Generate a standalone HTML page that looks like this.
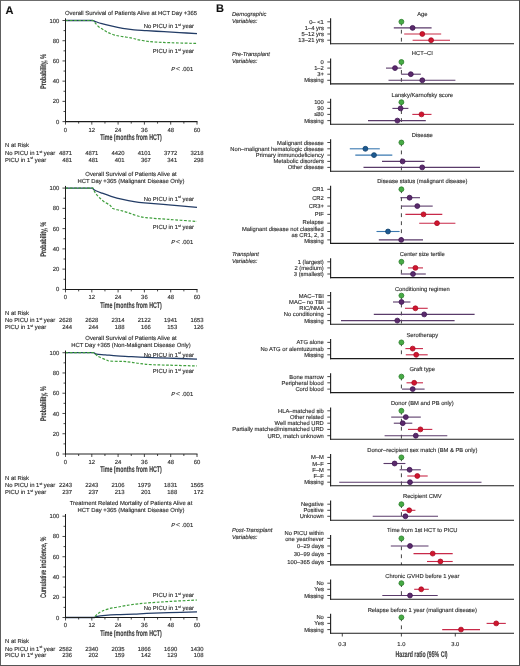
<!DOCTYPE html>
<html><head><meta charset="utf-8"><style>
html,body{margin:0;padding:0;background:#fff;}
body{width:520px;height:666px;overflow:hidden;}
svg{display:block;font-family:"Liberation Sans", sans-serif;text-rendering:geometricPrecision;}
text{stroke:#333;stroke-width:0.14px;}
</style></head><body>
<svg width="520" height="666" viewBox="0 0 520 666">
<defs><filter id="soft" x="-2%" y="-2%" width="104%" height="104%"><feGaussianBlur stdDeviation="0.32"/></filter></defs>
<rect x="0" y="0" width="520" height="666" fill="#fff"/>
<g filter="url(#soft)">
<text x="131.00" y="14.83" font-size="5.9" text-anchor="middle" fill="#2b2b2b" >Overall Survival of Patients Alive at HCT Day +365</text>
<path d="M65.50,20.50 L92.90,20.50 C93.22,20.63 93.37,20.77 94.87,21.31 C96.37,21.85 99.18,22.96 101.88,23.74 C104.58,24.51 107.62,25.20 111.09,25.96 C114.56,26.72 118.87,27.64 122.70,28.28 C126.54,28.93 130.12,29.41 134.10,29.80 C138.08,30.19 141.59,30.29 146.59,30.61 C151.60,30.93 158.65,31.39 164.12,31.72 C169.60,32.06 173.99,32.33 179.47,32.63 C184.95,32.94 194.08,33.39 197.00,33.54" fill="none" stroke="#243c66" stroke-width="1.3" stroke-linejoin="round"/>
<path d="M65.50,20.50 L92.90,20.50 C93.22,20.84 93.96,21.53 94.87,22.52 C95.78,23.52 97.02,25.32 98.38,26.46 C99.73,27.61 101.44,28.42 102.98,29.40 C104.51,30.37 105.64,31.39 107.58,32.33 C109.52,33.27 112.07,34.35 114.59,35.06 C117.11,35.77 119.82,36.07 122.70,36.57 C125.59,37.08 129.24,37.55 131.91,38.09 C134.57,38.63 136.22,39.29 138.70,39.81 C141.19,40.33 144.40,40.87 146.81,41.23 C149.22,41.58 149.19,41.68 153.17,41.93 C157.15,42.19 163.39,42.49 170.70,42.74 C178.01,42.99 192.62,43.33 197.00,43.45" fill="none" stroke="#3f9f3c" stroke-width="1.2" stroke-dasharray="2.7 1.6"/>
<line x1="65.50" y1="18.30" x2="65.50" y2="122.15" stroke="#1e1e1e" stroke-width="1.05" />
<line x1="64.95" y1="121.60" x2="197.50" y2="121.60" stroke="#1e1e1e" stroke-width="1.05" />
<line x1="62.50" y1="121.60" x2="65.50" y2="121.60" stroke="#1e1e1e" stroke-width="0.8" />
<text x="59.40" y="123.63" font-size="5.9" text-anchor="end" fill="#2b2b2b" >0</text>
<line x1="63.50" y1="111.49" x2="65.50" y2="111.49" stroke="#1e1e1e" stroke-width="0.8" />
<line x1="62.50" y1="101.38" x2="65.50" y2="101.38" stroke="#1e1e1e" stroke-width="0.8" />
<text x="59.40" y="103.41" font-size="5.9" text-anchor="end" fill="#2b2b2b" >20</text>
<line x1="63.50" y1="91.27" x2="65.50" y2="91.27" stroke="#1e1e1e" stroke-width="0.8" />
<line x1="62.50" y1="81.16" x2="65.50" y2="81.16" stroke="#1e1e1e" stroke-width="0.8" />
<text x="59.40" y="83.19" font-size="5.9" text-anchor="end" fill="#2b2b2b" >40</text>
<line x1="63.50" y1="71.05" x2="65.50" y2="71.05" stroke="#1e1e1e" stroke-width="0.8" />
<line x1="62.50" y1="60.94" x2="65.50" y2="60.94" stroke="#1e1e1e" stroke-width="0.8" />
<text x="59.40" y="62.97" font-size="5.9" text-anchor="end" fill="#2b2b2b" >60</text>
<line x1="63.50" y1="50.83" x2="65.50" y2="50.83" stroke="#1e1e1e" stroke-width="0.8" />
<line x1="62.50" y1="40.72" x2="65.50" y2="40.72" stroke="#1e1e1e" stroke-width="0.8" />
<text x="59.40" y="42.75" font-size="5.9" text-anchor="end" fill="#2b2b2b" >80</text>
<line x1="63.50" y1="30.61" x2="65.50" y2="30.61" stroke="#1e1e1e" stroke-width="0.8" />
<line x1="62.50" y1="20.50" x2="65.50" y2="20.50" stroke="#1e1e1e" stroke-width="0.8" />
<text x="59.40" y="22.53" font-size="5.9" text-anchor="end" fill="#2b2b2b" >100</text>
<line x1="65.50" y1="121.60" x2="65.50" y2="124.60" stroke="#1e1e1e" stroke-width="0.8" />
<text x="65.50" y="131.53" font-size="5.9" text-anchor="middle" fill="#2b2b2b" >0</text>
<line x1="78.65" y1="121.60" x2="78.65" y2="123.60" stroke="#1e1e1e" stroke-width="0.8" />
<line x1="91.80" y1="121.60" x2="91.80" y2="124.60" stroke="#1e1e1e" stroke-width="0.8" />
<text x="91.80" y="131.53" font-size="5.9" text-anchor="middle" fill="#2b2b2b" >12</text>
<line x1="104.95" y1="121.60" x2="104.95" y2="123.60" stroke="#1e1e1e" stroke-width="0.8" />
<line x1="118.10" y1="121.60" x2="118.10" y2="124.60" stroke="#1e1e1e" stroke-width="0.8" />
<text x="118.10" y="131.53" font-size="5.9" text-anchor="middle" fill="#2b2b2b" >24</text>
<line x1="131.25" y1="121.60" x2="131.25" y2="123.60" stroke="#1e1e1e" stroke-width="0.8" />
<line x1="144.40" y1="121.60" x2="144.40" y2="124.60" stroke="#1e1e1e" stroke-width="0.8" />
<text x="144.40" y="131.53" font-size="5.9" text-anchor="middle" fill="#2b2b2b" >36</text>
<line x1="157.55" y1="121.60" x2="157.55" y2="123.60" stroke="#1e1e1e" stroke-width="0.8" />
<line x1="170.70" y1="121.60" x2="170.70" y2="124.60" stroke="#1e1e1e" stroke-width="0.8" />
<text x="170.70" y="131.53" font-size="5.9" text-anchor="middle" fill="#2b2b2b" >48</text>
<line x1="183.85" y1="121.60" x2="183.85" y2="123.60" stroke="#1e1e1e" stroke-width="0.8" />
<line x1="197.00" y1="121.60" x2="197.00" y2="124.60" stroke="#1e1e1e" stroke-width="0.8" />
<text x="197.00" y="131.53" font-size="5.9" text-anchor="middle" fill="#2b2b2b" >60</text>
<text x="131" y="140.02" font-size="8.2" font-weight="bold" stroke="none" text-anchor="middle" fill="#3c3c3c" textLength="61.6" lengthAdjust="spacingAndGlyphs">Time (months from HCT)</text>
<text transform="translate(45.92,71.45) rotate(-90)" x="0" y="0" font-size="8.2" font-weight="bold" stroke="none" text-anchor="middle" fill="#3c3c3c" textLength="34.7" lengthAdjust="spacingAndGlyphs">Probability, %</text>
<text x="194.00" y="28.43" font-size="5.9" text-anchor="end" fill="#2b2b2b">No PICU in 1<tspan font-size="3.66" dy="-2.1">st</tspan><tspan dy="2.1"> year</tspan></text>
<text x="194.00" y="52.83" font-size="5.9" text-anchor="end" fill="#2b2b2b">PICU in 1<tspan font-size="3.66" dy="-2.1">st</tspan><tspan dy="2.1"> year</tspan></text>
<text x="171.3" y="70.53" font-size="5.9" fill="#2b2b2b" font-style="italic">P</text>
<text x="175.9" y="70.53" font-size="6.9" fill="#2b2b2b">&lt;</text>
<text x="181.7" y="70.53" font-size="5.9" fill="#2b2b2b">.001</text>
<text x="5.00" y="147.33" font-size="5.9" text-anchor="start" fill="#2b2b2b" >N at Risk</text>
<text x="5.00" y="154.63" font-size="5.9" text-anchor="start" fill="#2b2b2b">No PICU in 1<tspan font-size="3.66" dy="-2.1">st</tspan><tspan dy="2.1"> year</tspan></text>
<text x="5.00" y="161.53" font-size="5.9" text-anchor="start" fill="#2b2b2b">PICU in 1<tspan font-size="3.66" dy="-2.1">st</tspan><tspan dy="2.1"> year</tspan></text>
<text x="72.00" y="154.63" font-size="5.9" text-anchor="end" fill="#2b2b2b" >4871</text>
<text x="98.30" y="154.63" font-size="5.9" text-anchor="end" fill="#2b2b2b" >4871</text>
<text x="124.60" y="154.63" font-size="5.9" text-anchor="end" fill="#2b2b2b" >4420</text>
<text x="150.90" y="154.63" font-size="5.9" text-anchor="end" fill="#2b2b2b" >4101</text>
<text x="177.20" y="154.63" font-size="5.9" text-anchor="end" fill="#2b2b2b" >3772</text>
<text x="203.50" y="154.63" font-size="5.9" text-anchor="end" fill="#2b2b2b" >3218</text>
<text x="72.00" y="161.53" font-size="5.9" text-anchor="end" fill="#2b2b2b" >481</text>
<text x="98.30" y="161.53" font-size="5.9" text-anchor="end" fill="#2b2b2b" >481</text>
<text x="124.60" y="161.53" font-size="5.9" text-anchor="end" fill="#2b2b2b" >401</text>
<text x="150.90" y="161.53" font-size="5.9" text-anchor="end" fill="#2b2b2b" >367</text>
<text x="177.20" y="161.53" font-size="5.9" text-anchor="end" fill="#2b2b2b" >341</text>
<text x="203.50" y="161.53" font-size="5.9" text-anchor="end" fill="#2b2b2b" >298</text>
<text x="131.00" y="175.73" font-size="5.9" text-anchor="middle" fill="#2b2b2b" >Overall Survival of Patients Alive at</text>
<text x="131.00" y="182.93" font-size="5.9" text-anchor="middle" fill="#2b2b2b" >HCT Day +365 (Malignant Disease Only)</text>
<path d="M65.50,188.10 L92.46,188.10 C92.86,188.45 93.30,189.40 94.87,190.23 C96.44,191.05 99.18,192.05 101.88,193.06 C104.58,194.08 107.62,195.24 111.09,196.31 C114.56,197.37 118.87,198.55 122.70,199.45 C126.54,200.34 130.48,201.10 134.10,201.67 C137.72,202.25 138.63,202.37 144.40,202.89 C150.17,203.41 159.96,204.07 168.73,204.81 C177.49,205.56 192.29,206.92 197.00,207.35" fill="none" stroke="#243c66" stroke-width="1.3" stroke-linejoin="round"/>
<path d="M65.50,188.10 L92.90,188.10 C93.04,188.45 93.22,189.21 93.77,190.23 C94.32,191.24 95.23,192.93 96.18,194.18 C97.13,195.43 98.16,196.47 99.47,197.72 C100.79,198.97 102.32,200.42 104.07,201.67 C105.83,202.92 108.53,204.07 109.99,205.22 C111.45,206.37 111.12,207.70 112.84,208.56 C114.56,209.42 117.70,209.69 120.29,210.39 C122.89,211.08 125.73,211.85 128.40,212.72 C131.07,213.58 133.41,214.74 136.29,215.55 C139.18,216.36 140.31,216.94 145.72,217.58 C151.12,218.22 160.18,218.76 168.73,219.40 C177.28,220.04 192.29,221.09 197.00,221.43" fill="none" stroke="#3f9f3c" stroke-width="1.2" stroke-dasharray="2.7 1.6"/>
<line x1="65.50" y1="185.90" x2="65.50" y2="289.95" stroke="#1e1e1e" stroke-width="1.05" />
<line x1="64.95" y1="289.40" x2="197.50" y2="289.40" stroke="#1e1e1e" stroke-width="1.05" />
<line x1="62.50" y1="289.40" x2="65.50" y2="289.40" stroke="#1e1e1e" stroke-width="0.8" />
<text x="59.40" y="291.43" font-size="5.9" text-anchor="end" fill="#2b2b2b" >0</text>
<line x1="63.50" y1="279.27" x2="65.50" y2="279.27" stroke="#1e1e1e" stroke-width="0.8" />
<line x1="62.50" y1="269.14" x2="65.50" y2="269.14" stroke="#1e1e1e" stroke-width="0.8" />
<text x="59.40" y="271.17" font-size="5.9" text-anchor="end" fill="#2b2b2b" >20</text>
<line x1="63.50" y1="259.01" x2="65.50" y2="259.01" stroke="#1e1e1e" stroke-width="0.8" />
<line x1="62.50" y1="248.88" x2="65.50" y2="248.88" stroke="#1e1e1e" stroke-width="0.8" />
<text x="59.40" y="250.91" font-size="5.9" text-anchor="end" fill="#2b2b2b" >40</text>
<line x1="63.50" y1="238.75" x2="65.50" y2="238.75" stroke="#1e1e1e" stroke-width="0.8" />
<line x1="62.50" y1="228.62" x2="65.50" y2="228.62" stroke="#1e1e1e" stroke-width="0.8" />
<text x="59.40" y="230.65" font-size="5.9" text-anchor="end" fill="#2b2b2b" >60</text>
<line x1="63.50" y1="218.49" x2="65.50" y2="218.49" stroke="#1e1e1e" stroke-width="0.8" />
<line x1="62.50" y1="208.36" x2="65.50" y2="208.36" stroke="#1e1e1e" stroke-width="0.8" />
<text x="59.40" y="210.39" font-size="5.9" text-anchor="end" fill="#2b2b2b" >80</text>
<line x1="63.50" y1="198.23" x2="65.50" y2="198.23" stroke="#1e1e1e" stroke-width="0.8" />
<line x1="62.50" y1="188.10" x2="65.50" y2="188.10" stroke="#1e1e1e" stroke-width="0.8" />
<text x="59.40" y="190.13" font-size="5.9" text-anchor="end" fill="#2b2b2b" >100</text>
<line x1="65.50" y1="289.40" x2="65.50" y2="292.40" stroke="#1e1e1e" stroke-width="0.8" />
<text x="65.50" y="299.33" font-size="5.9" text-anchor="middle" fill="#2b2b2b" >0</text>
<line x1="78.65" y1="289.40" x2="78.65" y2="291.40" stroke="#1e1e1e" stroke-width="0.8" />
<line x1="91.80" y1="289.40" x2="91.80" y2="292.40" stroke="#1e1e1e" stroke-width="0.8" />
<text x="91.80" y="299.33" font-size="5.9" text-anchor="middle" fill="#2b2b2b" >12</text>
<line x1="104.95" y1="289.40" x2="104.95" y2="291.40" stroke="#1e1e1e" stroke-width="0.8" />
<line x1="118.10" y1="289.40" x2="118.10" y2="292.40" stroke="#1e1e1e" stroke-width="0.8" />
<text x="118.10" y="299.33" font-size="5.9" text-anchor="middle" fill="#2b2b2b" >24</text>
<line x1="131.25" y1="289.40" x2="131.25" y2="291.40" stroke="#1e1e1e" stroke-width="0.8" />
<line x1="144.40" y1="289.40" x2="144.40" y2="292.40" stroke="#1e1e1e" stroke-width="0.8" />
<text x="144.40" y="299.33" font-size="5.9" text-anchor="middle" fill="#2b2b2b" >36</text>
<line x1="157.55" y1="289.40" x2="157.55" y2="291.40" stroke="#1e1e1e" stroke-width="0.8" />
<line x1="170.70" y1="289.40" x2="170.70" y2="292.40" stroke="#1e1e1e" stroke-width="0.8" />
<text x="170.70" y="299.33" font-size="5.9" text-anchor="middle" fill="#2b2b2b" >48</text>
<line x1="183.85" y1="289.40" x2="183.85" y2="291.40" stroke="#1e1e1e" stroke-width="0.8" />
<line x1="197.00" y1="289.40" x2="197.00" y2="292.40" stroke="#1e1e1e" stroke-width="0.8" />
<text x="197.00" y="299.33" font-size="5.9" text-anchor="middle" fill="#2b2b2b" >60</text>
<text x="131" y="307.82" font-size="8.2" font-weight="bold" stroke="none" text-anchor="middle" fill="#3c3c3c" textLength="61.6" lengthAdjust="spacingAndGlyphs">Time (months from HCT)</text>
<text transform="translate(45.92,239.15) rotate(-90)" x="0" y="0" font-size="8.2" font-weight="bold" stroke="none" text-anchor="middle" fill="#3c3c3c" textLength="34.7" lengthAdjust="spacingAndGlyphs">Probability, %</text>
<text x="194.00" y="200.53" font-size="5.9" text-anchor="end" fill="#2b2b2b">No PICU in 1<tspan font-size="3.66" dy="-2.1">st</tspan><tspan dy="2.1"> year</tspan></text>
<text x="194.00" y="228.63" font-size="5.9" text-anchor="end" fill="#2b2b2b">PICU in 1<tspan font-size="3.66" dy="-2.1">st</tspan><tspan dy="2.1"> year</tspan></text>
<text x="171.3" y="244.03" font-size="5.9" fill="#2b2b2b" font-style="italic">P</text>
<text x="175.9" y="244.03" font-size="6.9" fill="#2b2b2b">&lt;</text>
<text x="181.7" y="244.03" font-size="5.9" fill="#2b2b2b">.001</text>
<text x="5.00" y="315.13" font-size="5.9" text-anchor="start" fill="#2b2b2b" >N at Risk</text>
<text x="5.00" y="322.43" font-size="5.9" text-anchor="start" fill="#2b2b2b">No PICU in 1<tspan font-size="3.66" dy="-2.1">st</tspan><tspan dy="2.1"> year</tspan></text>
<text x="5.00" y="329.33" font-size="5.9" text-anchor="start" fill="#2b2b2b">PICU in 1<tspan font-size="3.66" dy="-2.1">st</tspan><tspan dy="2.1"> year</tspan></text>
<text x="72.00" y="322.43" font-size="5.9" text-anchor="end" fill="#2b2b2b" >2628</text>
<text x="98.30" y="322.43" font-size="5.9" text-anchor="end" fill="#2b2b2b" >2628</text>
<text x="124.60" y="322.43" font-size="5.9" text-anchor="end" fill="#2b2b2b" >2314</text>
<text x="150.90" y="322.43" font-size="5.9" text-anchor="end" fill="#2b2b2b" >2122</text>
<text x="177.20" y="322.43" font-size="5.9" text-anchor="end" fill="#2b2b2b" >1941</text>
<text x="203.50" y="322.43" font-size="5.9" text-anchor="end" fill="#2b2b2b" >1653</text>
<text x="72.00" y="329.33" font-size="5.9" text-anchor="end" fill="#2b2b2b" >244</text>
<text x="98.30" y="329.33" font-size="5.9" text-anchor="end" fill="#2b2b2b" >244</text>
<text x="124.60" y="329.33" font-size="5.9" text-anchor="end" fill="#2b2b2b" >188</text>
<text x="150.90" y="329.33" font-size="5.9" text-anchor="end" fill="#2b2b2b" >166</text>
<text x="177.20" y="329.33" font-size="5.9" text-anchor="end" fill="#2b2b2b" >153</text>
<text x="203.50" y="329.33" font-size="5.9" text-anchor="end" fill="#2b2b2b" >126</text>
<text x="131.00" y="340.13" font-size="5.9" text-anchor="middle" fill="#2b2b2b" >Overall Survival of Patients Alive at</text>
<text x="131.00" y="346.63" font-size="5.9" text-anchor="middle" fill="#2b2b2b" >HCT Day +365 (Non-Malignant Disease Only)</text>
<path d="M65.50,352.70 L93.77,352.70 C94.25,352.92 94.69,353.66 96.62,354.02 C98.56,354.37 102.03,354.51 105.39,354.83 C108.75,355.15 112.95,355.65 116.78,355.94 C120.62,356.23 124.53,356.36 128.40,356.55 C132.27,356.74 133.30,356.79 140.02,357.06 C146.74,357.33 159.23,357.83 168.73,358.17 C178.22,358.51 192.29,358.93 197.00,359.08" fill="none" stroke="#243c66" stroke-width="1.3" stroke-linejoin="round"/>
<path d="M65.50,352.70 L93.77,352.70 C94.25,353.12 95.67,354.51 96.62,355.23 C97.57,355.96 97.83,356.26 99.47,357.06 C101.11,357.85 104.73,359.32 106.48,359.99 C108.24,360.67 107.29,360.87 109.99,361.11 C112.69,361.34 119.05,361.21 122.70,361.41 C126.36,361.61 129.02,361.97 131.91,362.32 C134.79,362.68 136.77,363.15 140.02,363.54 C143.27,363.93 146.63,364.38 151.41,364.65 C156.20,364.92 161.13,364.94 168.73,365.16 C176.33,365.38 192.29,365.84 197.00,365.97" fill="none" stroke="#3f9f3c" stroke-width="1.2" stroke-dasharray="2.7 1.6"/>
<line x1="65.50" y1="350.50" x2="65.50" y2="454.55" stroke="#1e1e1e" stroke-width="1.05" />
<line x1="64.95" y1="454.00" x2="197.50" y2="454.00" stroke="#1e1e1e" stroke-width="1.05" />
<line x1="62.50" y1="454.00" x2="65.50" y2="454.00" stroke="#1e1e1e" stroke-width="0.8" />
<text x="59.40" y="456.03" font-size="5.9" text-anchor="end" fill="#2b2b2b" >0</text>
<line x1="63.50" y1="443.87" x2="65.50" y2="443.87" stroke="#1e1e1e" stroke-width="0.8" />
<line x1="62.50" y1="433.74" x2="65.50" y2="433.74" stroke="#1e1e1e" stroke-width="0.8" />
<text x="59.40" y="435.77" font-size="5.9" text-anchor="end" fill="#2b2b2b" >20</text>
<line x1="63.50" y1="423.61" x2="65.50" y2="423.61" stroke="#1e1e1e" stroke-width="0.8" />
<line x1="62.50" y1="413.48" x2="65.50" y2="413.48" stroke="#1e1e1e" stroke-width="0.8" />
<text x="59.40" y="415.51" font-size="5.9" text-anchor="end" fill="#2b2b2b" >40</text>
<line x1="63.50" y1="403.35" x2="65.50" y2="403.35" stroke="#1e1e1e" stroke-width="0.8" />
<line x1="62.50" y1="393.22" x2="65.50" y2="393.22" stroke="#1e1e1e" stroke-width="0.8" />
<text x="59.40" y="395.25" font-size="5.9" text-anchor="end" fill="#2b2b2b" >60</text>
<line x1="63.50" y1="383.09" x2="65.50" y2="383.09" stroke="#1e1e1e" stroke-width="0.8" />
<line x1="62.50" y1="372.96" x2="65.50" y2="372.96" stroke="#1e1e1e" stroke-width="0.8" />
<text x="59.40" y="374.99" font-size="5.9" text-anchor="end" fill="#2b2b2b" >80</text>
<line x1="63.50" y1="362.83" x2="65.50" y2="362.83" stroke="#1e1e1e" stroke-width="0.8" />
<line x1="62.50" y1="352.70" x2="65.50" y2="352.70" stroke="#1e1e1e" stroke-width="0.8" />
<text x="59.40" y="354.73" font-size="5.9" text-anchor="end" fill="#2b2b2b" >100</text>
<line x1="65.50" y1="454.00" x2="65.50" y2="457.00" stroke="#1e1e1e" stroke-width="0.8" />
<text x="65.50" y="463.93" font-size="5.9" text-anchor="middle" fill="#2b2b2b" >0</text>
<line x1="78.65" y1="454.00" x2="78.65" y2="456.00" stroke="#1e1e1e" stroke-width="0.8" />
<line x1="91.80" y1="454.00" x2="91.80" y2="457.00" stroke="#1e1e1e" stroke-width="0.8" />
<text x="91.80" y="463.93" font-size="5.9" text-anchor="middle" fill="#2b2b2b" >12</text>
<line x1="104.95" y1="454.00" x2="104.95" y2="456.00" stroke="#1e1e1e" stroke-width="0.8" />
<line x1="118.10" y1="454.00" x2="118.10" y2="457.00" stroke="#1e1e1e" stroke-width="0.8" />
<text x="118.10" y="463.93" font-size="5.9" text-anchor="middle" fill="#2b2b2b" >24</text>
<line x1="131.25" y1="454.00" x2="131.25" y2="456.00" stroke="#1e1e1e" stroke-width="0.8" />
<line x1="144.40" y1="454.00" x2="144.40" y2="457.00" stroke="#1e1e1e" stroke-width="0.8" />
<text x="144.40" y="463.93" font-size="5.9" text-anchor="middle" fill="#2b2b2b" >36</text>
<line x1="157.55" y1="454.00" x2="157.55" y2="456.00" stroke="#1e1e1e" stroke-width="0.8" />
<line x1="170.70" y1="454.00" x2="170.70" y2="457.00" stroke="#1e1e1e" stroke-width="0.8" />
<text x="170.70" y="463.93" font-size="5.9" text-anchor="middle" fill="#2b2b2b" >48</text>
<line x1="183.85" y1="454.00" x2="183.85" y2="456.00" stroke="#1e1e1e" stroke-width="0.8" />
<line x1="197.00" y1="454.00" x2="197.00" y2="457.00" stroke="#1e1e1e" stroke-width="0.8" />
<text x="197.00" y="463.93" font-size="5.9" text-anchor="middle" fill="#2b2b2b" >60</text>
<text x="131" y="472.42" font-size="8.2" font-weight="bold" stroke="none" text-anchor="middle" fill="#3c3c3c" textLength="61.6" lengthAdjust="spacingAndGlyphs">Time (months from HCT)</text>
<text transform="translate(45.92,403.75) rotate(-90)" x="0" y="0" font-size="8.2" font-weight="bold" stroke="none" text-anchor="middle" fill="#3c3c3c" textLength="34.7" lengthAdjust="spacingAndGlyphs">Probability, %</text>
<text x="194.00" y="356.53" font-size="5.9" text-anchor="end" fill="#2b2b2b">No PICU in 1<tspan font-size="3.66" dy="-2.1">st</tspan><tspan dy="2.1"> year</tspan></text>
<text x="194.00" y="373.03" font-size="5.9" text-anchor="end" fill="#2b2b2b">PICU in 1<tspan font-size="3.66" dy="-2.1">st</tspan><tspan dy="2.1"> year</tspan></text>
<text x="171.3" y="396.03" font-size="5.9" fill="#2b2b2b" font-style="italic">P</text>
<text x="175.9" y="396.03" font-size="6.9" fill="#2b2b2b">&lt;</text>
<text x="181.7" y="396.03" font-size="5.9" fill="#2b2b2b">.001</text>
<text x="5.00" y="479.73" font-size="5.9" text-anchor="start" fill="#2b2b2b" >N at Risk</text>
<text x="5.00" y="487.03" font-size="5.9" text-anchor="start" fill="#2b2b2b">No PICU in 1<tspan font-size="3.66" dy="-2.1">st</tspan><tspan dy="2.1"> year</tspan></text>
<text x="5.00" y="493.93" font-size="5.9" text-anchor="start" fill="#2b2b2b">PICU in 1<tspan font-size="3.66" dy="-2.1">st</tspan><tspan dy="2.1"> year</tspan></text>
<text x="72.00" y="487.03" font-size="5.9" text-anchor="end" fill="#2b2b2b" >2243</text>
<text x="98.30" y="487.03" font-size="5.9" text-anchor="end" fill="#2b2b2b" >2243</text>
<text x="124.60" y="487.03" font-size="5.9" text-anchor="end" fill="#2b2b2b" >2106</text>
<text x="150.90" y="487.03" font-size="5.9" text-anchor="end" fill="#2b2b2b" >1979</text>
<text x="177.20" y="487.03" font-size="5.9" text-anchor="end" fill="#2b2b2b" >1831</text>
<text x="203.50" y="487.03" font-size="5.9" text-anchor="end" fill="#2b2b2b" >1565</text>
<text x="72.00" y="493.93" font-size="5.9" text-anchor="end" fill="#2b2b2b" >237</text>
<text x="98.30" y="493.93" font-size="5.9" text-anchor="end" fill="#2b2b2b" >237</text>
<text x="124.60" y="493.93" font-size="5.9" text-anchor="end" fill="#2b2b2b" >213</text>
<text x="150.90" y="493.93" font-size="5.9" text-anchor="end" fill="#2b2b2b" >201</text>
<text x="177.20" y="493.93" font-size="5.9" text-anchor="end" fill="#2b2b2b" >188</text>
<text x="203.50" y="493.93" font-size="5.9" text-anchor="end" fill="#2b2b2b" >172</text>
<text x="131.00" y="504.83" font-size="5.9" text-anchor="middle" fill="#2b2b2b" >Treatment Related Mortality of Patients Alive at</text>
<text x="131.00" y="512.03" font-size="5.9" text-anchor="middle" fill="#2b2b2b" >HCT Day +365 (Malignant Disease Only)</text>
<path d="M65.50,617.50 L94.65,617.50 C94.90,617.36 94.39,617.03 96.18,616.69 C97.97,616.35 101.95,615.81 105.39,615.47 C108.82,615.14 112.00,614.90 116.78,614.66 C121.57,614.43 129.13,614.26 134.10,614.06 C139.07,613.85 140.82,613.68 146.59,613.45 C152.36,613.21 160.33,612.89 168.73,612.64 C177.13,612.38 192.29,612.05 197.00,611.93" fill="none" stroke="#243c66" stroke-width="1.3" stroke-linejoin="round"/>
<path d="M65.50,617.50 L94.21,617.50 C94.72,616.94 96.00,615.20 97.28,614.16 C98.56,613.11 99.95,612.13 101.88,611.22 C103.82,610.31 106.41,609.35 108.90,608.69 C111.38,608.03 113.94,607.79 116.78,607.27 C119.63,606.75 122.74,606.09 125.99,605.55 C129.24,605.01 132.82,604.45 136.29,604.03 C139.76,603.61 141.40,603.44 146.81,603.01 C152.22,602.59 160.36,602.00 168.73,601.49 C177.09,600.99 192.29,600.23 197.00,599.98" fill="none" stroke="#3f9f3c" stroke-width="1.2" stroke-dasharray="2.7 1.6"/>
<line x1="65.50" y1="514.00" x2="65.50" y2="618.05" stroke="#1e1e1e" stroke-width="1.05" />
<line x1="64.95" y1="617.50" x2="197.50" y2="617.50" stroke="#1e1e1e" stroke-width="1.05" />
<line x1="62.50" y1="617.50" x2="65.50" y2="617.50" stroke="#1e1e1e" stroke-width="0.8" />
<text x="59.40" y="619.53" font-size="5.9" text-anchor="end" fill="#2b2b2b" >0</text>
<line x1="63.50" y1="607.37" x2="65.50" y2="607.37" stroke="#1e1e1e" stroke-width="0.8" />
<line x1="62.50" y1="597.24" x2="65.50" y2="597.24" stroke="#1e1e1e" stroke-width="0.8" />
<text x="59.40" y="599.27" font-size="5.9" text-anchor="end" fill="#2b2b2b" >20</text>
<line x1="63.50" y1="587.11" x2="65.50" y2="587.11" stroke="#1e1e1e" stroke-width="0.8" />
<line x1="62.50" y1="576.98" x2="65.50" y2="576.98" stroke="#1e1e1e" stroke-width="0.8" />
<text x="59.40" y="579.01" font-size="5.9" text-anchor="end" fill="#2b2b2b" >40</text>
<line x1="63.50" y1="566.85" x2="65.50" y2="566.85" stroke="#1e1e1e" stroke-width="0.8" />
<line x1="62.50" y1="556.72" x2="65.50" y2="556.72" stroke="#1e1e1e" stroke-width="0.8" />
<text x="59.40" y="558.75" font-size="5.9" text-anchor="end" fill="#2b2b2b" >60</text>
<line x1="63.50" y1="546.59" x2="65.50" y2="546.59" stroke="#1e1e1e" stroke-width="0.8" />
<line x1="62.50" y1="536.46" x2="65.50" y2="536.46" stroke="#1e1e1e" stroke-width="0.8" />
<text x="59.40" y="538.49" font-size="5.9" text-anchor="end" fill="#2b2b2b" >80</text>
<line x1="63.50" y1="526.33" x2="65.50" y2="526.33" stroke="#1e1e1e" stroke-width="0.8" />
<line x1="62.50" y1="516.20" x2="65.50" y2="516.20" stroke="#1e1e1e" stroke-width="0.8" />
<text x="59.40" y="518.23" font-size="5.9" text-anchor="end" fill="#2b2b2b" >100</text>
<line x1="65.50" y1="617.50" x2="65.50" y2="620.50" stroke="#1e1e1e" stroke-width="0.8" />
<text x="65.50" y="627.43" font-size="5.9" text-anchor="middle" fill="#2b2b2b" >0</text>
<line x1="78.65" y1="617.50" x2="78.65" y2="619.50" stroke="#1e1e1e" stroke-width="0.8" />
<line x1="91.80" y1="617.50" x2="91.80" y2="620.50" stroke="#1e1e1e" stroke-width="0.8" />
<text x="91.80" y="627.43" font-size="5.9" text-anchor="middle" fill="#2b2b2b" >12</text>
<line x1="104.95" y1="617.50" x2="104.95" y2="619.50" stroke="#1e1e1e" stroke-width="0.8" />
<line x1="118.10" y1="617.50" x2="118.10" y2="620.50" stroke="#1e1e1e" stroke-width="0.8" />
<text x="118.10" y="627.43" font-size="5.9" text-anchor="middle" fill="#2b2b2b" >24</text>
<line x1="131.25" y1="617.50" x2="131.25" y2="619.50" stroke="#1e1e1e" stroke-width="0.8" />
<line x1="144.40" y1="617.50" x2="144.40" y2="620.50" stroke="#1e1e1e" stroke-width="0.8" />
<text x="144.40" y="627.43" font-size="5.9" text-anchor="middle" fill="#2b2b2b" >36</text>
<line x1="157.55" y1="617.50" x2="157.55" y2="619.50" stroke="#1e1e1e" stroke-width="0.8" />
<line x1="170.70" y1="617.50" x2="170.70" y2="620.50" stroke="#1e1e1e" stroke-width="0.8" />
<text x="170.70" y="627.43" font-size="5.9" text-anchor="middle" fill="#2b2b2b" >48</text>
<line x1="183.85" y1="617.50" x2="183.85" y2="619.50" stroke="#1e1e1e" stroke-width="0.8" />
<line x1="197.00" y1="617.50" x2="197.00" y2="620.50" stroke="#1e1e1e" stroke-width="0.8" />
<text x="197.00" y="627.43" font-size="5.9" text-anchor="middle" fill="#2b2b2b" >60</text>
<text x="131" y="635.92" font-size="8.2" font-weight="bold" stroke="none" text-anchor="middle" fill="#3c3c3c" textLength="61.6" lengthAdjust="spacingAndGlyphs">Time (months from HCT)</text>
<text transform="translate(45.92,567.25) rotate(-90)" x="0" y="0" font-size="8.2" font-weight="bold" stroke="none" text-anchor="middle" fill="#3c3c3c" textLength="61.3" lengthAdjust="spacingAndGlyphs">Cumulative incidence, %</text>
<text x="194.00" y="609.63" font-size="5.9" text-anchor="end" fill="#2b2b2b">No PICU in 1<tspan font-size="3.66" dy="-2.1">st</tspan><tspan dy="2.1"> year</tspan></text>
<text x="194.00" y="597.23" font-size="5.9" text-anchor="end" fill="#2b2b2b">PICU in 1<tspan font-size="3.66" dy="-2.1">st</tspan><tspan dy="2.1"> year</tspan></text>
<text x="171.3" y="526.73" font-size="5.9" fill="#2b2b2b" font-style="italic">P</text>
<text x="175.9" y="526.73" font-size="6.9" fill="#2b2b2b">&lt;</text>
<text x="181.7" y="526.73" font-size="5.9" fill="#2b2b2b">.001</text>
<text x="5.00" y="643.23" font-size="5.9" text-anchor="start" fill="#2b2b2b" >N at Risk</text>
<text x="5.00" y="650.53" font-size="5.9" text-anchor="start" fill="#2b2b2b">No PICU in 1<tspan font-size="3.66" dy="-2.1">st</tspan><tspan dy="2.1"> year</tspan></text>
<text x="5.00" y="657.43" font-size="5.9" text-anchor="start" fill="#2b2b2b">PICU in 1<tspan font-size="3.66" dy="-2.1">st</tspan><tspan dy="2.1"> year</tspan></text>
<text x="72.00" y="650.53" font-size="5.9" text-anchor="end" fill="#2b2b2b" >2582</text>
<text x="98.30" y="650.53" font-size="5.9" text-anchor="end" fill="#2b2b2b" >2340</text>
<text x="124.60" y="650.53" font-size="5.9" text-anchor="end" fill="#2b2b2b" >2035</text>
<text x="150.90" y="650.53" font-size="5.9" text-anchor="end" fill="#2b2b2b" >1866</text>
<text x="177.20" y="650.53" font-size="5.9" text-anchor="end" fill="#2b2b2b" >1690</text>
<text x="203.50" y="650.53" font-size="5.9" text-anchor="end" fill="#2b2b2b" >1430</text>
<text x="72.00" y="657.43" font-size="5.9" text-anchor="end" fill="#2b2b2b" >236</text>
<text x="98.30" y="657.43" font-size="5.9" text-anchor="end" fill="#2b2b2b" >202</text>
<text x="124.60" y="657.43" font-size="5.9" text-anchor="end" fill="#2b2b2b" >159</text>
<text x="150.90" y="657.43" font-size="5.9" text-anchor="end" fill="#2b2b2b" >142</text>
<text x="177.20" y="657.43" font-size="5.9" text-anchor="end" fill="#2b2b2b" >129</text>
<text x="203.50" y="657.43" font-size="5.9" text-anchor="end" fill="#2b2b2b" >108</text>
<text x="5.4" y="14.2" font-size="11" font-weight="bold" fill="#111">A</text>
<text x="216.0" y="11.9" font-size="11" font-weight="bold" fill="#111">B</text>
<text x="422.30" y="15.80" font-size="5.8" text-anchor="middle" fill="#2b2b2b" >Age</text>
<line x1="401.40" y1="21.80" x2="401.40" y2="43.80" stroke="#2a2a2a" stroke-width="0.9" stroke-dasharray="3.8 4.2"/>
<line x1="393.80" y1="27.90" x2="431.60" y2="27.90" stroke="#5a3a6a" stroke-width="1.1" />
<line x1="404.20" y1="34.00" x2="441.20" y2="34.00" stroke="#c82a48" stroke-width="1.1" />
<line x1="412.60" y1="40.20" x2="450.00" y2="40.20" stroke="#c82a48" stroke-width="1.1" />
<circle cx="401.40" cy="21.80" r="2.45" fill="#46ab44" stroke="#2a7d2a" stroke-width="0.8"/>
<circle cx="412.60" cy="27.90" r="2.45" fill="#5a2a6c" stroke="#3e1450" stroke-width="0.8"/>
<circle cx="422.30" cy="34.00" r="2.45" fill="#d0142e" stroke="#a80c24" stroke-width="0.8"/>
<circle cx="431.10" cy="40.20" r="2.45" fill="#d0142e" stroke="#a80c24" stroke-width="0.8"/>
<line x1="330.60" y1="18.20" x2="330.60" y2="44.35" stroke="#1e1e1e" stroke-width="1.1" />
<line x1="330.05" y1="43.80" x2="514.00" y2="43.80" stroke="#1e1e1e" stroke-width="1.1" />
<line x1="327.30" y1="21.80" x2="330.60" y2="21.80" stroke="#1e1e1e" stroke-width="0.8" />
<text x="323.80" y="23.80" font-size="5.8" text-anchor="end" fill="#2b2b2b" >0– &lt;1</text>
<line x1="327.30" y1="27.90" x2="330.60" y2="27.90" stroke="#1e1e1e" stroke-width="0.8" />
<text x="323.80" y="29.90" font-size="5.8" text-anchor="end" fill="#2b2b2b" >1–4 yrs</text>
<line x1="327.30" y1="34.00" x2="330.60" y2="34.00" stroke="#1e1e1e" stroke-width="0.8" />
<text x="323.80" y="36.00" font-size="5.8" text-anchor="end" fill="#2b2b2b" >5–12 yrs</text>
<line x1="327.30" y1="40.20" x2="330.60" y2="40.20" stroke="#1e1e1e" stroke-width="0.8" />
<text x="323.80" y="42.20" font-size="5.8" text-anchor="end" fill="#2b2b2b" >13–21 yrs</text>
<text x="422.30" y="54.90" font-size="5.8" text-anchor="middle" fill="#2b2b2b" >HCT–CI</text>
<line x1="401.40" y1="62.00" x2="401.40" y2="83.90" stroke="#2a2a2a" stroke-width="0.9" stroke-dasharray="3.8 4.2"/>
<line x1="386.00" y1="68.10" x2="401.50" y2="68.10" stroke="#5a3a6a" stroke-width="1.1" />
<line x1="401.20" y1="74.20" x2="420.80" y2="74.20" stroke="#5a3a6a" stroke-width="1.1" />
<line x1="388.50" y1="80.30" x2="455.40" y2="80.30" stroke="#5a3a6a" stroke-width="1.1" />
<circle cx="401.40" cy="62.00" r="2.45" fill="#46ab44" stroke="#2a7d2a" stroke-width="0.8"/>
<circle cx="395.00" cy="68.10" r="2.45" fill="#5a2a6c" stroke="#3e1450" stroke-width="0.8"/>
<circle cx="410.80" cy="74.20" r="2.45" fill="#5a2a6c" stroke="#3e1450" stroke-width="0.8"/>
<circle cx="422.30" cy="80.30" r="2.45" fill="#5a2a6c" stroke="#3e1450" stroke-width="0.8"/>
<line x1="330.60" y1="58.60" x2="330.60" y2="84.45" stroke="#1e1e1e" stroke-width="1.1" />
<line x1="330.05" y1="83.90" x2="514.00" y2="83.90" stroke="#1e1e1e" stroke-width="1.1" />
<line x1="327.30" y1="62.00" x2="330.60" y2="62.00" stroke="#1e1e1e" stroke-width="0.8" />
<text x="323.80" y="64.00" font-size="5.8" text-anchor="end" fill="#2b2b2b" >0</text>
<line x1="327.30" y1="68.10" x2="330.60" y2="68.10" stroke="#1e1e1e" stroke-width="0.8" />
<text x="323.80" y="70.10" font-size="5.8" text-anchor="end" fill="#2b2b2b" >1–2</text>
<line x1="327.30" y1="74.20" x2="330.60" y2="74.20" stroke="#1e1e1e" stroke-width="0.8" />
<text x="323.80" y="76.20" font-size="5.8" text-anchor="end" fill="#2b2b2b" >3+</text>
<line x1="327.30" y1="80.30" x2="330.60" y2="80.30" stroke="#1e1e1e" stroke-width="0.8" />
<text x="323.80" y="82.30" font-size="5.8" text-anchor="end" fill="#2b2b2b" >Missing</text>
<text x="422.30" y="96.60" font-size="5.8" text-anchor="middle" fill="#2b2b2b" >Lansky/Karnofsky score</text>
<line x1="401.40" y1="102.20" x2="401.40" y2="124.30" stroke="#2a2a2a" stroke-width="0.9" stroke-dasharray="3.8 4.2"/>
<line x1="392.40" y1="108.40" x2="408.40" y2="108.40" stroke="#5a3a6a" stroke-width="1.1" />
<line x1="412.30" y1="114.40" x2="431.50" y2="114.40" stroke="#c82a48" stroke-width="1.1" />
<line x1="368.00" y1="120.60" x2="425.80" y2="120.60" stroke="#5a3a6a" stroke-width="1.1" />
<circle cx="401.40" cy="102.20" r="2.45" fill="#46ab44" stroke="#2a7d2a" stroke-width="0.8"/>
<circle cx="400.60" cy="108.40" r="2.45" fill="#5a2a6c" stroke="#3e1450" stroke-width="0.8"/>
<circle cx="421.50" cy="114.40" r="2.45" fill="#d0142e" stroke="#a80c24" stroke-width="0.8"/>
<circle cx="397.40" cy="120.60" r="2.45" fill="#5a2a6c" stroke="#3e1450" stroke-width="0.8"/>
<line x1="330.60" y1="98.70" x2="330.60" y2="124.85" stroke="#1e1e1e" stroke-width="1.1" />
<line x1="330.05" y1="124.30" x2="514.00" y2="124.30" stroke="#1e1e1e" stroke-width="1.1" />
<line x1="327.30" y1="102.20" x2="330.60" y2="102.20" stroke="#1e1e1e" stroke-width="0.8" />
<text x="323.80" y="104.20" font-size="5.8" text-anchor="end" fill="#2b2b2b" >100</text>
<line x1="327.30" y1="108.40" x2="330.60" y2="108.40" stroke="#1e1e1e" stroke-width="0.8" />
<text x="323.80" y="110.40" font-size="5.8" text-anchor="end" fill="#2b2b2b" >90</text>
<line x1="327.30" y1="114.40" x2="330.60" y2="114.40" stroke="#1e1e1e" stroke-width="0.8" />
<text x="323.80" y="116.40" font-size="5.8" text-anchor="end" fill="#2b2b2b" >≤80</text>
<line x1="327.30" y1="120.60" x2="330.60" y2="120.60" stroke="#1e1e1e" stroke-width="0.8" />
<text x="323.80" y="122.60" font-size="5.8" text-anchor="end" fill="#2b2b2b" >Missing</text>
<text x="422.30" y="137.10" font-size="5.8" text-anchor="middle" fill="#2b2b2b" >Disease</text>
<line x1="401.40" y1="142.50" x2="401.40" y2="171.30" stroke="#2a2a2a" stroke-width="0.9" stroke-dasharray="3.8 4.2"/>
<line x1="349.80" y1="148.80" x2="379.80" y2="148.80" stroke="#3a78b0" stroke-width="1.1" />
<line x1="355.30" y1="155.10" x2="392.30" y2="155.10" stroke="#3a78b0" stroke-width="1.1" />
<line x1="382.00" y1="161.40" x2="424.50" y2="161.40" stroke="#5a3a6a" stroke-width="1.1" />
<line x1="363.50" y1="167.40" x2="480.00" y2="167.40" stroke="#5a3a6a" stroke-width="1.1" />
<circle cx="401.40" cy="142.50" r="2.45" fill="#46ab44" stroke="#2a7d2a" stroke-width="0.8"/>
<circle cx="365.40" cy="148.80" r="2.45" fill="#1d5a92" stroke="#0f3d68" stroke-width="0.8"/>
<circle cx="374.00" cy="155.10" r="2.45" fill="#1d5a92" stroke="#0f3d68" stroke-width="0.8"/>
<circle cx="402.60" cy="161.40" r="2.45" fill="#5a2a6c" stroke="#3e1450" stroke-width="0.8"/>
<circle cx="422.20" cy="167.40" r="2.45" fill="#5a2a6c" stroke="#3e1450" stroke-width="0.8"/>
<line x1="330.60" y1="139.20" x2="330.60" y2="171.85" stroke="#1e1e1e" stroke-width="1.1" />
<line x1="330.05" y1="171.30" x2="514.00" y2="171.30" stroke="#1e1e1e" stroke-width="1.1" />
<line x1="327.30" y1="142.50" x2="330.60" y2="142.50" stroke="#1e1e1e" stroke-width="0.8" />
<text x="323.80" y="144.50" font-size="5.8" text-anchor="end" fill="#2b2b2b" >Malignant disease</text>
<line x1="327.30" y1="148.80" x2="330.60" y2="148.80" stroke="#1e1e1e" stroke-width="0.8" />
<text x="323.80" y="150.80" font-size="5.8" text-anchor="end" fill="#2b2b2b" >Non–malignant hematologic disease</text>
<line x1="327.30" y1="155.10" x2="330.60" y2="155.10" stroke="#1e1e1e" stroke-width="0.8" />
<text x="323.80" y="157.10" font-size="5.8" text-anchor="end" fill="#2b2b2b" >Primary immunodeficiency</text>
<line x1="327.30" y1="161.40" x2="330.60" y2="161.40" stroke="#1e1e1e" stroke-width="0.8" />
<text x="323.80" y="163.40" font-size="5.8" text-anchor="end" fill="#2b2b2b" >Metabolic disorders</text>
<line x1="327.30" y1="167.40" x2="330.60" y2="167.40" stroke="#1e1e1e" stroke-width="0.8" />
<text x="323.80" y="169.40" font-size="5.8" text-anchor="end" fill="#2b2b2b" >Other disease</text>
<text x="422.30" y="182.60" font-size="5.8" text-anchor="middle" fill="#2b2b2b" >Disease status (malignant disease)</text>
<line x1="401.40" y1="189.30" x2="401.40" y2="243.40" stroke="#2a2a2a" stroke-width="0.9" stroke-dasharray="3.8 4.2"/>
<line x1="400.40" y1="197.70" x2="420.00" y2="197.70" stroke="#5a3a6a" stroke-width="1.1" />
<line x1="401.50" y1="206.10" x2="432.70" y2="206.10" stroke="#5a3a6a" stroke-width="1.1" />
<line x1="405.40" y1="214.40" x2="442.30" y2="214.40" stroke="#c82a48" stroke-width="1.1" />
<line x1="419.20" y1="223.20" x2="455.40" y2="223.20" stroke="#c82a48" stroke-width="1.1" />
<line x1="376.50" y1="231.50" x2="399.60" y2="231.50" stroke="#3a78b0" stroke-width="1.1" />
<line x1="378.80" y1="239.90" x2="423.00" y2="239.90" stroke="#5a3a6a" stroke-width="1.1" />
<circle cx="401.40" cy="189.30" r="2.45" fill="#46ab44" stroke="#2a7d2a" stroke-width="0.8"/>
<circle cx="409.60" cy="197.70" r="2.45" fill="#5a2a6c" stroke="#3e1450" stroke-width="0.8"/>
<circle cx="417.30" cy="206.10" r="2.45" fill="#5a2a6c" stroke="#3e1450" stroke-width="0.8"/>
<circle cx="423.50" cy="214.40" r="2.45" fill="#d0142e" stroke="#a80c24" stroke-width="0.8"/>
<circle cx="437.00" cy="223.20" r="2.45" fill="#d0142e" stroke="#a80c24" stroke-width="0.8"/>
<circle cx="388.00" cy="231.50" r="2.45" fill="#1d5a92" stroke="#0f3d68" stroke-width="0.8"/>
<circle cx="401.20" cy="239.90" r="2.45" fill="#5a2a6c" stroke="#3e1450" stroke-width="0.8"/>
<line x1="330.60" y1="185.80" x2="330.60" y2="243.95" stroke="#1e1e1e" stroke-width="1.1" />
<line x1="330.05" y1="243.40" x2="514.00" y2="243.40" stroke="#1e1e1e" stroke-width="1.1" />
<line x1="327.30" y1="189.30" x2="330.60" y2="189.30" stroke="#1e1e1e" stroke-width="0.8" />
<text x="323.80" y="191.30" font-size="5.8" text-anchor="end" fill="#2b2b2b" >CR1</text>
<line x1="327.30" y1="197.70" x2="330.60" y2="197.70" stroke="#1e1e1e" stroke-width="0.8" />
<text x="323.80" y="199.70" font-size="5.8" text-anchor="end" fill="#2b2b2b" >CR2</text>
<line x1="327.30" y1="206.10" x2="330.60" y2="206.10" stroke="#1e1e1e" stroke-width="0.8" />
<text x="323.80" y="208.10" font-size="5.8" text-anchor="end" fill="#2b2b2b" >CR3+</text>
<line x1="327.30" y1="214.40" x2="330.60" y2="214.40" stroke="#1e1e1e" stroke-width="0.8" />
<text x="323.80" y="216.40" font-size="5.8" text-anchor="end" fill="#2b2b2b" >PIF</text>
<line x1="327.30" y1="223.20" x2="330.60" y2="223.20" stroke="#1e1e1e" stroke-width="0.8" />
<text x="323.80" y="224.00" font-size="5.8" text-anchor="end" fill="#2b2b2b" >Relapse</text>
<line x1="327.30" y1="231.50" x2="330.60" y2="231.50" stroke="#1e1e1e" stroke-width="0.8" />
<text x="323.80" y="230.50" font-size="5.8" text-anchor="end" fill="#2b2b2b" >Malignant disease not classified</text>
<text x="323.80" y="236.90" font-size="5.8" text-anchor="end" fill="#2b2b2b" >as CR1, 2, 3</text>
<line x1="327.30" y1="239.90" x2="330.60" y2="239.90" stroke="#1e1e1e" stroke-width="0.8" />
<text x="323.80" y="242.90" font-size="5.8" text-anchor="end" fill="#2b2b2b" >Missing</text>
<text x="422.30" y="256.20" font-size="5.8" text-anchor="middle" fill="#2b2b2b" >Center size tertile</text>
<line x1="401.40" y1="261.80" x2="401.40" y2="277.60" stroke="#2a2a2a" stroke-width="0.9" stroke-dasharray="3.8 4.2"/>
<line x1="408.00" y1="267.90" x2="423.00" y2="267.90" stroke="#c82a48" stroke-width="1.1" />
<line x1="400.80" y1="274.00" x2="425.80" y2="274.00" stroke="#5a3a6a" stroke-width="1.1" />
<circle cx="401.40" cy="261.80" r="2.45" fill="#46ab44" stroke="#2a7d2a" stroke-width="0.8"/>
<circle cx="415.40" cy="267.90" r="2.45" fill="#d0142e" stroke="#a80c24" stroke-width="0.8"/>
<circle cx="413.00" cy="274.00" r="2.45" fill="#5a2a6c" stroke="#3e1450" stroke-width="0.8"/>
<line x1="330.60" y1="258.20" x2="330.60" y2="278.15" stroke="#1e1e1e" stroke-width="1.1" />
<line x1="330.05" y1="277.60" x2="514.00" y2="277.60" stroke="#1e1e1e" stroke-width="1.1" />
<line x1="327.30" y1="261.80" x2="330.60" y2="261.80" stroke="#1e1e1e" stroke-width="0.8" />
<text x="323.80" y="263.80" font-size="5.8" text-anchor="end" fill="#2b2b2b" >1 (largest)</text>
<line x1="327.30" y1="267.90" x2="330.60" y2="267.90" stroke="#1e1e1e" stroke-width="0.8" />
<text x="323.80" y="269.90" font-size="5.8" text-anchor="end" fill="#2b2b2b" >2 (medium)</text>
<line x1="327.30" y1="274.00" x2="330.60" y2="274.00" stroke="#1e1e1e" stroke-width="0.8" />
<text x="323.80" y="276.00" font-size="5.8" text-anchor="end" fill="#2b2b2b" >3 (smallest)</text>
<text x="422.30" y="290.50" font-size="5.8" text-anchor="middle" fill="#2b2b2b" >Conditioning regimen</text>
<line x1="401.40" y1="295.60" x2="401.40" y2="324.20" stroke="#2a2a2a" stroke-width="0.9" stroke-dasharray="3.8 4.2"/>
<line x1="393.00" y1="302.00" x2="410.40" y2="302.00" stroke="#5a3a6a" stroke-width="1.1" />
<line x1="405.00" y1="308.30" x2="427.70" y2="308.30" stroke="#c82a48" stroke-width="1.1" />
<line x1="373.80" y1="314.40" x2="474.60" y2="314.40" stroke="#5a3a6a" stroke-width="1.1" />
<line x1="341.00" y1="320.60" x2="454.60" y2="320.60" stroke="#5a3a6a" stroke-width="1.1" />
<circle cx="401.40" cy="295.60" r="2.45" fill="#46ab44" stroke="#2a7d2a" stroke-width="0.8"/>
<circle cx="401.50" cy="302.00" r="2.45" fill="#5a2a6c" stroke="#3e1450" stroke-width="0.8"/>
<circle cx="415.40" cy="308.30" r="2.45" fill="#d0142e" stroke="#a80c24" stroke-width="0.8"/>
<circle cx="424.20" cy="314.40" r="2.45" fill="#5a2a6c" stroke="#3e1450" stroke-width="0.8"/>
<circle cx="397.30" cy="320.60" r="2.45" fill="#5a2a6c" stroke="#3e1450" stroke-width="0.8"/>
<line x1="330.60" y1="292.00" x2="330.60" y2="324.75" stroke="#1e1e1e" stroke-width="1.1" />
<line x1="330.05" y1="324.20" x2="514.00" y2="324.20" stroke="#1e1e1e" stroke-width="1.1" />
<line x1="327.30" y1="295.60" x2="330.60" y2="295.60" stroke="#1e1e1e" stroke-width="0.8" />
<text x="323.80" y="297.60" font-size="5.8" text-anchor="end" fill="#2b2b2b" >MAC–TBI</text>
<line x1="327.30" y1="302.00" x2="330.60" y2="302.00" stroke="#1e1e1e" stroke-width="0.8" />
<text x="323.80" y="304.00" font-size="5.8" text-anchor="end" fill="#2b2b2b" >MAC– no TBI</text>
<line x1="327.30" y1="308.30" x2="330.60" y2="308.30" stroke="#1e1e1e" stroke-width="0.8" />
<text x="323.80" y="310.30" font-size="5.8" text-anchor="end" fill="#2b2b2b" >RIC/NMA</text>
<line x1="327.30" y1="314.40" x2="330.60" y2="314.40" stroke="#1e1e1e" stroke-width="0.8" />
<text x="323.80" y="316.40" font-size="5.8" text-anchor="end" fill="#2b2b2b" >No conditioning</text>
<line x1="327.30" y1="320.60" x2="330.60" y2="320.60" stroke="#1e1e1e" stroke-width="0.8" />
<text x="323.80" y="322.60" font-size="5.8" text-anchor="end" fill="#2b2b2b" >Missing</text>
<text x="422.30" y="337.40" font-size="5.8" text-anchor="middle" fill="#2b2b2b" >Serotherapy</text>
<line x1="401.40" y1="342.40" x2="401.40" y2="358.60" stroke="#2a2a2a" stroke-width="0.9" stroke-dasharray="3.8 4.2"/>
<line x1="405.40" y1="348.60" x2="423.00" y2="348.60" stroke="#c82a48" stroke-width="1.1" />
<line x1="405.80" y1="354.80" x2="427.70" y2="354.80" stroke="#c82a48" stroke-width="1.1" />
<circle cx="401.40" cy="342.40" r="2.45" fill="#46ab44" stroke="#2a7d2a" stroke-width="0.8"/>
<circle cx="412.70" cy="348.60" r="2.45" fill="#d0142e" stroke="#a80c24" stroke-width="0.8"/>
<circle cx="416.20" cy="354.80" r="2.45" fill="#d0142e" stroke="#a80c24" stroke-width="0.8"/>
<line x1="330.60" y1="339.00" x2="330.60" y2="359.15" stroke="#1e1e1e" stroke-width="1.1" />
<line x1="330.05" y1="358.60" x2="514.00" y2="358.60" stroke="#1e1e1e" stroke-width="1.1" />
<line x1="327.30" y1="342.40" x2="330.60" y2="342.40" stroke="#1e1e1e" stroke-width="0.8" />
<text x="323.80" y="344.40" font-size="5.8" text-anchor="end" fill="#2b2b2b" >ATG alone</text>
<line x1="327.30" y1="348.60" x2="330.60" y2="348.60" stroke="#1e1e1e" stroke-width="0.8" />
<text x="323.80" y="350.60" font-size="5.8" text-anchor="end" fill="#2b2b2b" >No ATG or alemtuzumab</text>
<line x1="327.30" y1="354.80" x2="330.60" y2="354.80" stroke="#1e1e1e" stroke-width="0.8" />
<text x="323.80" y="356.80" font-size="5.8" text-anchor="end" fill="#2b2b2b" >Missing</text>
<text x="422.30" y="371.20" font-size="5.8" text-anchor="middle" fill="#2b2b2b" >Graft type</text>
<line x1="401.40" y1="376.60" x2="401.40" y2="392.60" stroke="#2a2a2a" stroke-width="0.9" stroke-dasharray="3.8 4.2"/>
<line x1="406.50" y1="382.80" x2="423.00" y2="382.80" stroke="#c82a48" stroke-width="1.1" />
<line x1="402.00" y1="389.10" x2="424.60" y2="389.10" stroke="#5a3a6a" stroke-width="1.1" />
<circle cx="401.40" cy="376.60" r="2.45" fill="#46ab44" stroke="#2a7d2a" stroke-width="0.8"/>
<circle cx="414.20" cy="382.80" r="2.45" fill="#d0142e" stroke="#a80c24" stroke-width="0.8"/>
<circle cx="412.70" cy="389.10" r="2.45" fill="#5a2a6c" stroke="#3e1450" stroke-width="0.8"/>
<line x1="330.60" y1="373.20" x2="330.60" y2="393.15" stroke="#1e1e1e" stroke-width="1.1" />
<line x1="330.05" y1="392.60" x2="514.00" y2="392.60" stroke="#1e1e1e" stroke-width="1.1" />
<line x1="327.30" y1="376.60" x2="330.60" y2="376.60" stroke="#1e1e1e" stroke-width="0.8" />
<text x="323.80" y="378.60" font-size="5.8" text-anchor="end" fill="#2b2b2b" >Bone marrow</text>
<line x1="327.30" y1="382.80" x2="330.60" y2="382.80" stroke="#1e1e1e" stroke-width="0.8" />
<text x="323.80" y="384.80" font-size="5.8" text-anchor="end" fill="#2b2b2b" >Peripheral blood</text>
<line x1="327.30" y1="389.10" x2="330.60" y2="389.10" stroke="#1e1e1e" stroke-width="0.8" />
<text x="323.80" y="391.10" font-size="5.8" text-anchor="end" fill="#2b2b2b" >Cord blood</text>
<text x="422.30" y="404.60" font-size="5.8" text-anchor="middle" fill="#2b2b2b" >Donor (BM and PB only)</text>
<line x1="401.40" y1="410.80" x2="401.40" y2="439.20" stroke="#2a2a2a" stroke-width="0.9" stroke-dasharray="3.8 4.2"/>
<line x1="391.20" y1="417.10" x2="420.80" y2="417.10" stroke="#5a3a6a" stroke-width="1.1" />
<line x1="393.80" y1="423.20" x2="412.30" y2="423.20" stroke="#5a3a6a" stroke-width="1.1" />
<line x1="408.00" y1="429.40" x2="432.30" y2="429.40" stroke="#c82a48" stroke-width="1.1" />
<line x1="384.60" y1="435.70" x2="447.30" y2="435.70" stroke="#5a3a6a" stroke-width="1.1" />
<circle cx="401.40" cy="410.80" r="2.45" fill="#46ab44" stroke="#2a7d2a" stroke-width="0.8"/>
<circle cx="405.80" cy="417.10" r="2.45" fill="#5a2a6c" stroke="#3e1450" stroke-width="0.8"/>
<circle cx="402.70" cy="423.20" r="2.45" fill="#5a2a6c" stroke="#3e1450" stroke-width="0.8"/>
<circle cx="420.40" cy="429.40" r="2.45" fill="#d0142e" stroke="#a80c24" stroke-width="0.8"/>
<circle cx="415.80" cy="435.70" r="2.45" fill="#5a2a6c" stroke="#3e1450" stroke-width="0.8"/>
<line x1="330.60" y1="407.40" x2="330.60" y2="439.75" stroke="#1e1e1e" stroke-width="1.1" />
<line x1="330.05" y1="439.20" x2="514.00" y2="439.20" stroke="#1e1e1e" stroke-width="1.1" />
<line x1="327.30" y1="410.80" x2="330.60" y2="410.80" stroke="#1e1e1e" stroke-width="0.8" />
<text x="323.80" y="412.80" font-size="5.8" text-anchor="end" fill="#2b2b2b" >HLA–matched sib</text>
<line x1="327.30" y1="417.10" x2="330.60" y2="417.10" stroke="#1e1e1e" stroke-width="0.8" />
<text x="323.80" y="419.10" font-size="5.8" text-anchor="end" fill="#2b2b2b" >Other related</text>
<line x1="327.30" y1="423.20" x2="330.60" y2="423.20" stroke="#1e1e1e" stroke-width="0.8" />
<text x="323.80" y="425.20" font-size="5.8" text-anchor="end" fill="#2b2b2b" >Well matched URD</text>
<line x1="327.30" y1="429.40" x2="330.60" y2="429.40" stroke="#1e1e1e" stroke-width="0.8" />
<text x="323.80" y="431.40" font-size="5.8" text-anchor="end" fill="#2b2b2b" >Partially matched/mismatched URD</text>
<line x1="327.30" y1="435.70" x2="330.60" y2="435.70" stroke="#1e1e1e" stroke-width="0.8" />
<text x="323.80" y="437.70" font-size="5.8" text-anchor="end" fill="#2b2b2b" >URD, match unknown</text>
<text x="422.30" y="452.00" font-size="5.8" text-anchor="middle" fill="#2b2b2b" >Donor–recipient sex match (BM &amp; PB only)</text>
<line x1="401.40" y1="457.40" x2="401.40" y2="485.80" stroke="#2a2a2a" stroke-width="0.9" stroke-dasharray="3.8 4.2"/>
<line x1="383.50" y1="463.50" x2="405.40" y2="463.50" stroke="#5a3a6a" stroke-width="1.1" />
<line x1="399.60" y1="469.80" x2="420.80" y2="469.80" stroke="#5a3a6a" stroke-width="1.1" />
<line x1="407.30" y1="476.00" x2="427.70" y2="476.00" stroke="#c82a48" stroke-width="1.1" />
<line x1="339.20" y1="482.20" x2="481.50" y2="482.20" stroke="#5a3a6a" stroke-width="1.1" />
<circle cx="401.40" cy="457.40" r="2.45" fill="#46ab44" stroke="#2a7d2a" stroke-width="0.8"/>
<circle cx="394.60" cy="463.50" r="2.45" fill="#5a2a6c" stroke="#3e1450" stroke-width="0.8"/>
<circle cx="409.60" cy="469.80" r="2.45" fill="#5a2a6c" stroke="#3e1450" stroke-width="0.8"/>
<circle cx="417.30" cy="476.00" r="2.45" fill="#d0142e" stroke="#a80c24" stroke-width="0.8"/>
<circle cx="410.00" cy="482.20" r="2.45" fill="#5a2a6c" stroke="#3e1450" stroke-width="0.8"/>
<line x1="330.60" y1="454.00" x2="330.60" y2="486.35" stroke="#1e1e1e" stroke-width="1.1" />
<line x1="330.05" y1="485.80" x2="514.00" y2="485.80" stroke="#1e1e1e" stroke-width="1.1" />
<line x1="327.30" y1="457.40" x2="330.60" y2="457.40" stroke="#1e1e1e" stroke-width="0.8" />
<text x="323.80" y="459.40" font-size="5.8" text-anchor="end" fill="#2b2b2b" >M–M</text>
<line x1="327.30" y1="463.50" x2="330.60" y2="463.50" stroke="#1e1e1e" stroke-width="0.8" />
<text x="323.80" y="465.50" font-size="5.8" text-anchor="end" fill="#2b2b2b" >M–F</text>
<line x1="327.30" y1="469.80" x2="330.60" y2="469.80" stroke="#1e1e1e" stroke-width="0.8" />
<text x="323.80" y="471.80" font-size="5.8" text-anchor="end" fill="#2b2b2b" >F–M</text>
<line x1="327.30" y1="476.00" x2="330.60" y2="476.00" stroke="#1e1e1e" stroke-width="0.8" />
<text x="323.80" y="478.00" font-size="5.8" text-anchor="end" fill="#2b2b2b" >F–F</text>
<line x1="327.30" y1="482.20" x2="330.60" y2="482.20" stroke="#1e1e1e" stroke-width="0.8" />
<text x="323.80" y="484.20" font-size="5.8" text-anchor="end" fill="#2b2b2b" >Missing</text>
<text x="422.30" y="498.20" font-size="5.8" text-anchor="middle" fill="#2b2b2b" >Recipient CMV</text>
<line x1="401.40" y1="504.20" x2="401.40" y2="520.20" stroke="#2a2a2a" stroke-width="0.9" stroke-dasharray="3.8 4.2"/>
<line x1="402.00" y1="510.30" x2="415.40" y2="510.30" stroke="#c82a48" stroke-width="1.1" />
<line x1="372.70" y1="516.30" x2="438.00" y2="516.30" stroke="#5a3a6a" stroke-width="1.1" />
<circle cx="401.40" cy="504.20" r="2.45" fill="#46ab44" stroke="#2a7d2a" stroke-width="0.8"/>
<circle cx="409.20" cy="510.30" r="2.45" fill="#d0142e" stroke="#a80c24" stroke-width="0.8"/>
<circle cx="405.40" cy="516.30" r="2.45" fill="#5a2a6c" stroke="#3e1450" stroke-width="0.8"/>
<line x1="330.60" y1="500.60" x2="330.60" y2="520.75" stroke="#1e1e1e" stroke-width="1.1" />
<line x1="330.05" y1="520.20" x2="514.00" y2="520.20" stroke="#1e1e1e" stroke-width="1.1" />
<line x1="327.30" y1="504.20" x2="330.60" y2="504.20" stroke="#1e1e1e" stroke-width="0.8" />
<text x="323.80" y="506.20" font-size="5.8" text-anchor="end" fill="#2b2b2b" >Negative</text>
<line x1="327.30" y1="510.30" x2="330.60" y2="510.30" stroke="#1e1e1e" stroke-width="0.8" />
<text x="323.80" y="512.30" font-size="5.8" text-anchor="end" fill="#2b2b2b" >Positive</text>
<line x1="327.30" y1="516.30" x2="330.60" y2="516.30" stroke="#1e1e1e" stroke-width="0.8" />
<text x="323.80" y="518.30" font-size="5.8" text-anchor="end" fill="#2b2b2b" >Unknown</text>
<text x="422.30" y="532.40" font-size="5.8" text-anchor="middle" fill="#2b2b2b" >Time from 1st HCT to PICU</text>
<line x1="401.40" y1="538.40" x2="401.40" y2="564.90" stroke="#2a2a2a" stroke-width="0.9" stroke-dasharray="3.8 4.2"/>
<line x1="390.80" y1="546.00" x2="428.50" y2="546.00" stroke="#5a3a6a" stroke-width="1.1" />
<line x1="413.50" y1="553.60" x2="452.70" y2="553.60" stroke="#c82a48" stroke-width="1.1" />
<line x1="427.00" y1="561.50" x2="452.70" y2="561.50" stroke="#c82a48" stroke-width="1.1" />
<circle cx="401.40" cy="538.40" r="2.45" fill="#46ab44" stroke="#2a7d2a" stroke-width="0.8"/>
<circle cx="410.00" cy="546.00" r="2.45" fill="#5a2a6c" stroke="#3e1450" stroke-width="0.8"/>
<circle cx="432.70" cy="553.60" r="2.45" fill="#d0142e" stroke="#a80c24" stroke-width="0.8"/>
<circle cx="440.40" cy="561.50" r="2.45" fill="#d0142e" stroke="#a80c24" stroke-width="0.8"/>
<line x1="330.60" y1="534.90" x2="330.60" y2="565.45" stroke="#1e1e1e" stroke-width="1.1" />
<line x1="330.05" y1="564.90" x2="514.00" y2="564.90" stroke="#1e1e1e" stroke-width="1.1" />
<line x1="327.30" y1="538.40" x2="330.60" y2="538.40" stroke="#1e1e1e" stroke-width="0.8" />
<text x="323.80" y="535.20" font-size="5.8" text-anchor="end" fill="#2b2b2b" >No PICU within</text>
<text x="323.80" y="541.10" font-size="5.8" text-anchor="end" fill="#2b2b2b" >one year/never</text>
<line x1="327.30" y1="546.00" x2="330.60" y2="546.00" stroke="#1e1e1e" stroke-width="0.8" />
<text x="323.80" y="548.00" font-size="5.8" text-anchor="end" fill="#2b2b2b" >0–29 days</text>
<line x1="327.30" y1="553.60" x2="330.60" y2="553.60" stroke="#1e1e1e" stroke-width="0.8" />
<text x="323.80" y="555.60" font-size="5.8" text-anchor="end" fill="#2b2b2b" >30–99 days</text>
<line x1="327.30" y1="561.50" x2="330.60" y2="561.50" stroke="#1e1e1e" stroke-width="0.8" />
<text x="323.80" y="563.50" font-size="5.8" text-anchor="end" fill="#2b2b2b" >100–365 days</text>
<text x="422.30" y="577.80" font-size="5.8" text-anchor="middle" fill="#2b2b2b" >Chronic GVHD before 1 year</text>
<line x1="401.40" y1="583.20" x2="401.40" y2="599.20" stroke="#2a2a2a" stroke-width="0.9" stroke-dasharray="3.8 4.2"/>
<line x1="414.20" y1="589.30" x2="428.80" y2="589.30" stroke="#c82a48" stroke-width="1.1" />
<line x1="382.30" y1="595.50" x2="437.70" y2="595.50" stroke="#5a3a6a" stroke-width="1.1" />
<circle cx="401.40" cy="583.20" r="2.45" fill="#46ab44" stroke="#2a7d2a" stroke-width="0.8"/>
<circle cx="421.20" cy="589.30" r="2.45" fill="#d0142e" stroke="#a80c24" stroke-width="0.8"/>
<circle cx="410.00" cy="595.50" r="2.45" fill="#5a2a6c" stroke="#3e1450" stroke-width="0.8"/>
<line x1="330.60" y1="579.60" x2="330.60" y2="599.75" stroke="#1e1e1e" stroke-width="1.1" />
<line x1="330.05" y1="599.20" x2="514.00" y2="599.20" stroke="#1e1e1e" stroke-width="1.1" />
<line x1="327.30" y1="583.20" x2="330.60" y2="583.20" stroke="#1e1e1e" stroke-width="0.8" />
<text x="323.80" y="585.20" font-size="5.8" text-anchor="end" fill="#2b2b2b" >No</text>
<line x1="327.30" y1="589.30" x2="330.60" y2="589.30" stroke="#1e1e1e" stroke-width="0.8" />
<text x="323.80" y="591.30" font-size="5.8" text-anchor="end" fill="#2b2b2b" >Yes</text>
<line x1="327.30" y1="595.50" x2="330.60" y2="595.50" stroke="#1e1e1e" stroke-width="0.8" />
<text x="323.80" y="597.50" font-size="5.8" text-anchor="end" fill="#2b2b2b" >Missing</text>
<text x="422.30" y="612.00" font-size="5.8" text-anchor="middle" fill="#2b2b2b" >Relapse before 1 year (malignant disease)</text>
<line x1="401.40" y1="617.40" x2="401.40" y2="633.20" stroke="#2a2a2a" stroke-width="0.9" stroke-dasharray="3.8 4.2"/>
<line x1="486.60" y1="623.40" x2="505.80" y2="623.40" stroke="#c82a48" stroke-width="1.1" />
<line x1="442.20" y1="629.60" x2="480.00" y2="629.60" stroke="#c82a48" stroke-width="1.1" />
<circle cx="401.40" cy="617.40" r="2.45" fill="#46ab44" stroke="#2a7d2a" stroke-width="0.8"/>
<circle cx="496.20" cy="623.40" r="2.45" fill="#d0142e" stroke="#a80c24" stroke-width="0.8"/>
<circle cx="461.00" cy="629.60" r="2.45" fill="#d0142e" stroke="#a80c24" stroke-width="0.8"/>
<line x1="330.60" y1="613.80" x2="330.60" y2="633.75" stroke="#1e1e1e" stroke-width="1.1" />
<line x1="330.05" y1="633.20" x2="514.00" y2="633.20" stroke="#1e1e1e" stroke-width="1.1" />
<line x1="327.30" y1="617.40" x2="330.60" y2="617.40" stroke="#1e1e1e" stroke-width="0.8" />
<text x="323.80" y="619.40" font-size="5.8" text-anchor="end" fill="#2b2b2b" >No</text>
<line x1="327.30" y1="623.40" x2="330.60" y2="623.40" stroke="#1e1e1e" stroke-width="0.8" />
<text x="323.80" y="625.40" font-size="5.8" text-anchor="end" fill="#2b2b2b" >Yes</text>
<line x1="327.30" y1="629.60" x2="330.60" y2="629.60" stroke="#1e1e1e" stroke-width="0.8" />
<text x="323.80" y="631.60" font-size="5.8" text-anchor="end" fill="#2b2b2b" >Missing</text>
<line x1="342.31" y1="633.20" x2="342.31" y2="636.50" stroke="#1e1e1e" stroke-width="0.8" />
<text x="342.31" y="646.00" font-size="5.8" text-anchor="middle" fill="#2b2b2b" >0.3</text>
<line x1="401.40" y1="633.20" x2="401.40" y2="636.50" stroke="#1e1e1e" stroke-width="0.8" />
<text x="401.40" y="646.00" font-size="5.8" text-anchor="middle" fill="#2b2b2b" >1.0</text>
<line x1="455.31" y1="633.20" x2="455.31" y2="636.50" stroke="#1e1e1e" stroke-width="0.8" />
<text x="455.31" y="646.00" font-size="5.8" text-anchor="middle" fill="#2b2b2b" >3.0</text>
<text x="421.6" y="656.62" font-size="8.2" font-weight="bold" stroke="none" text-anchor="middle" fill="#3c3c3c" textLength="52" lengthAdjust="spacingAndGlyphs">Hazard ratio (95% CI)</text>
<text x="231.90" y="15.70" font-size="5.8" text-anchor="start" fill="#2b2b2b" font-style="italic">Demographic</text>
<text x="231.90" y="22.70" font-size="5.8" text-anchor="start" fill="#2b2b2b" font-style="italic">Variables:</text>
<text x="231.90" y="56.00" font-size="5.8" text-anchor="start" fill="#2b2b2b" font-style="italic">Pre-Transplant</text>
<text x="231.90" y="63.00" font-size="5.8" text-anchor="start" fill="#2b2b2b" font-style="italic">Variables:</text>
<text x="231.90" y="255.50" font-size="5.8" text-anchor="start" fill="#2b2b2b" font-style="italic">Transplant</text>
<text x="231.90" y="262.50" font-size="5.8" text-anchor="start" fill="#2b2b2b" font-style="italic">Variables:</text>
<text x="231.90" y="532.00" font-size="5.8" text-anchor="start" fill="#2b2b2b" font-style="italic">Post-Transplant</text>
<text x="231.90" y="539.00" font-size="5.8" text-anchor="start" fill="#2b2b2b" font-style="italic">Variables:</text>
</g>
<rect x="0" y="0" width="520" height="1" fill="#6c6c6c"/>
<rect x="0" y="0" width="1" height="666" fill="#5e5e5e"/>
<rect x="519" y="0" width="1" height="666" fill="#4a4a4a"/>
<rect x="0" y="665" width="520" height="1" fill="#555"/>
</svg>
</body></html>
